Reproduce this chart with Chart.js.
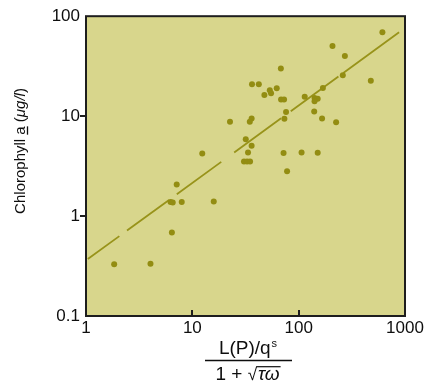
<!DOCTYPE html>
<html><head><meta charset="utf-8">
<script src="https://cdn.jsdelivr.net/npm/chart.js@4.4.0/dist/chart.umd.min.js"></script>
<style>html,body{margin:0;padding:0;background:#fff;}#wrap{width:427px;height:388px;}</style>
</head><body><div id="wrap"><canvas id="c" width="427" height="388"></canvas></div>
<script>
// Phosphorus loading term (x) and chlorophyll a (y)
const loadX = [613, 208, 272, 68, 36.4, 42.2, 477, 260, 62.2, 53.5, 55.0, 47.6, 68.3, 72.9, 169, 114, 141, 151, 141, 76.1, 140, 73.4, 166, 225, 22.6, 36.1, 34.7, 31.8, 36.1, 12.4, 33.4, 72.1, 106.5, 151, 30.6, 32.7, 34.9, 77.8, 7.13, 6.24, 6.54, 7.95, 15.9, 6.42, 1.84, 4.04];
const chlY  = [69.0, 50.2, 40.0, 29.9, 20.8, 20.8, 22.6, 25.7, 19.0, 18.2, 16.9, 16.3, 14.7, 14.7, 19.1, 15.6, 15.2, 14.9, 14.1, 11.0, 11.1, 9.44, 9.49, 8.71, 8.77, 9.49, 8.77, 5.86, 5.05, 4.23, 4.33, 4.28, 4.33, 4.30, 3.52, 3.52, 3.52, 2.81, 2.07, 1.38, 1.37, 1.38, 1.40, 0.683, 0.330, 0.333];
// Regression line end points
const fitX = [1.04, 880];
const fitY = [0.371, 69];
// Axes
const xTicks = [1, 10, 100, 1000];
const xTickLabels = ['1', '10', '100', '1000'];
const yTicks = [0.1, 1, 10, 100];
const yTickLabels = ['0.1', '1', '10', '100'];
// Titles
const yTitleParts = [['Chlorophyll ', 'n'], ['a', 'u'], [' (', 'n'], ['\u03bcg/l', 'i'], [')', 'n']];
const xTitleNum = 'L(P)/q';
const xTitleNumSup = 's';
const xTitleDen = '1 + ';
const xTitleRad = '\u221a';
const xTitleRadicand = '\u03c4\u03c9';

const FAM = "'Liberation Sans', Arial, Helvetica, sans-serif";
const TXT = '#0e0e0e';

const decor = {
  id: 'decor',
  beforeDraw(chart) {
    const {ctx, chartArea: a} = chart;
    ctx.save();
    ctx.fillStyle = '#d8d68c';
    ctx.fillRect(a.left, a.top, a.right - a.left, a.bottom - a.top);
    ctx.restore();
  },
  afterDraw(chart) {
    const {ctx, chartArea: a, scales} = chart;
    ctx.save();
    // frame
    ctx.strokeStyle = '#1e1e1e';
    ctx.lineWidth = 2;
    ctx.strokeRect(a.left, a.top, a.right - a.left, a.bottom - a.top);
    // y ticks outward
    yTicks.forEach(v => {
      if (v <= yTicks[0] || v >= yTicks[yTicks.length - 1]) return;
      const p = Math.round(scales.y.getPixelForValue(v));
      ctx.beginPath(); ctx.moveTo(a.left - 6, p); ctx.lineTo(a.left, p); ctx.stroke();
    });
    // x ticks inward
    xTicks.forEach(v => {
      if (v <= xTicks[0] || v >= xTicks[xTicks.length - 1]) return;
      const p = Math.round(scales.x.getPixelForValue(v));
      ctx.beginPath(); ctx.moveTo(p, a.bottom); ctx.lineTo(p, a.bottom - 6); ctx.stroke();
    });
    // y title
    ctx.fillStyle = TXT;
    ctx.textBaseline = 'alphabetic';
    ctx.textAlign = 'left';
    const fy = s => (s === 'i' ? 'italic ' : '') + '15px ' + FAM;
    let tw = 0;
    yTitleParts.forEach(([t, s]) => { ctx.font = fy(s); tw += ctx.measureText(t).width; });
    ctx.save();
    ctx.translate(25, 151);
    ctx.rotate(-Math.PI / 2);
    let cx = -tw / 2;
    yTitleParts.forEach(([t, s]) => {
      ctx.font = fy(s);
      const w = ctx.measureText(t).width;
      ctx.fillText(t, cx, 0);
      if (s === 'u') {
        ctx.lineWidth = 1.3;
        ctx.strokeStyle = TXT;
        ctx.beginPath(); ctx.moveTo(cx, 2.5); ctx.lineTo(cx + w, 2.5); ctx.stroke();
      }
      cx += w;
    });
    ctx.restore();
    // x title (fraction)
    const xc = 248;
    ctx.font = '19px ' + FAM;
    const wn = ctx.measureText(xTitleNum).width;
    ctx.font = '11px ' + FAM;
    const ws = ctx.measureText(xTitleNumSup).width;
    let x0 = xc - (wn + ws + 1) / 2;
    ctx.font = '19px ' + FAM;
    ctx.fillText(xTitleNum, x0, 354);
    ctx.font = '11px ' + FAM;
    ctx.fillText(xTitleNumSup, x0 + wn + 1, 347);
    // fraction bar
    ctx.strokeStyle = TXT;
    ctx.lineWidth = 1.5;
    ctx.beginPath(); ctx.moveTo(205, 360.5); ctx.lineTo(292, 360.5); ctx.stroke();
    // denominator
    ctx.font = '19px ' + FAM;
    const w1 = ctx.measureText(xTitleDen).width;
    ctx.font = '17px ' + FAM;
    const rm = ctx.measureText(xTitleRad);
    const wr = rm.width;
    ctx.font = 'italic 19px ' + FAM;
    const wt = ctx.measureText(xTitleRadicand).width;
    const total = w1 + wr + wt + 2;
    let dx = xc - total / 2;
    const by = 380;
    ctx.font = '19px ' + FAM;
    ctx.fillText(xTitleDen, dx, by);
    dx += w1;
    ctx.font = '17px ' + FAM;
    ctx.fillText(xTitleRad, dx, by);
    const rtop = by - (rm.actualBoundingBoxAscent || 14) + 0.7;
    dx += wr;
    ctx.font = 'italic 19px ' + FAM;
    ctx.fillText(xTitleRadicand, dx + 1, by);
    ctx.lineWidth = 1.2;
    ctx.beginPath(); ctx.moveTo(dx - 0.8, rtop); ctx.lineTo(dx + wt + 2, rtop); ctx.stroke();
    ctx.restore();
  }
};

new Chart(document.getElementById('c'), {
  data: {
    datasets: [
      {
        type: 'scatter',
        order: 1,
        data: loadX.map((x, i) => ({x: x, y: chlY[i]})),
        pointRadius: 3,
        pointBackgroundColor: '#938d12',
        pointBorderWidth: 0
      },
      {
        type: 'line',
        order: 2,
        data: fitX.map((x, i) => ({x: x, y: fitY[i]})),
        borderColor: '#98931a',
        borderWidth: 1.8,
        borderDash: [39, 9.5, 52, 9.6, 55, 16, 58, 12, 59, 6, 2000],
        pointRadius: 0,
        fill: false,
        tension: 0
      }
    ]
  },
  options: {
    responsive: false,
    animation: false,
    devicePixelRatio: 1,
    layout: {padding: {left: 0, top: 13, right: 22, bottom: 0}},
    plugins: {legend: {display: false}, tooltip: {enabled: false}},
    scales: {
      x: {
        type: 'logarithmic', position: 'bottom', min: 1, max: 1000,
        grid: {display: false, drawTicks: false},
        border: {display: false},
        afterBuildTicks: s => { s.ticks = xTicks.map(v => ({value: v})); },
        afterFit: s => { s.height = 72; },
        ticks: {
          autoSkip: false, maxRotation: 0, padding: 2, color: TXT,
          font: {family: FAM, size: 17},
          callback: v => xTickLabels[xTicks.indexOf(v)]
        }
      },
      y: {
        type: 'logarithmic', position: 'left', min: 0.1, max: 100,
        grid: {display: false, drawTicks: false},
        border: {display: false},
        afterBuildTicks: s => { s.ticks = yTicks.map(v => ({value: v})); },
        afterFit: s => { s.width = 86; },
        ticks: {
          autoSkip: false, padding: 6, color: TXT,
          font: {family: FAM, size: 17},
          callback: v => yTickLabels[yTicks.indexOf(v)]
        }
      }
    }
  },
  plugins: [decor]
});
</script>
</body></html>
